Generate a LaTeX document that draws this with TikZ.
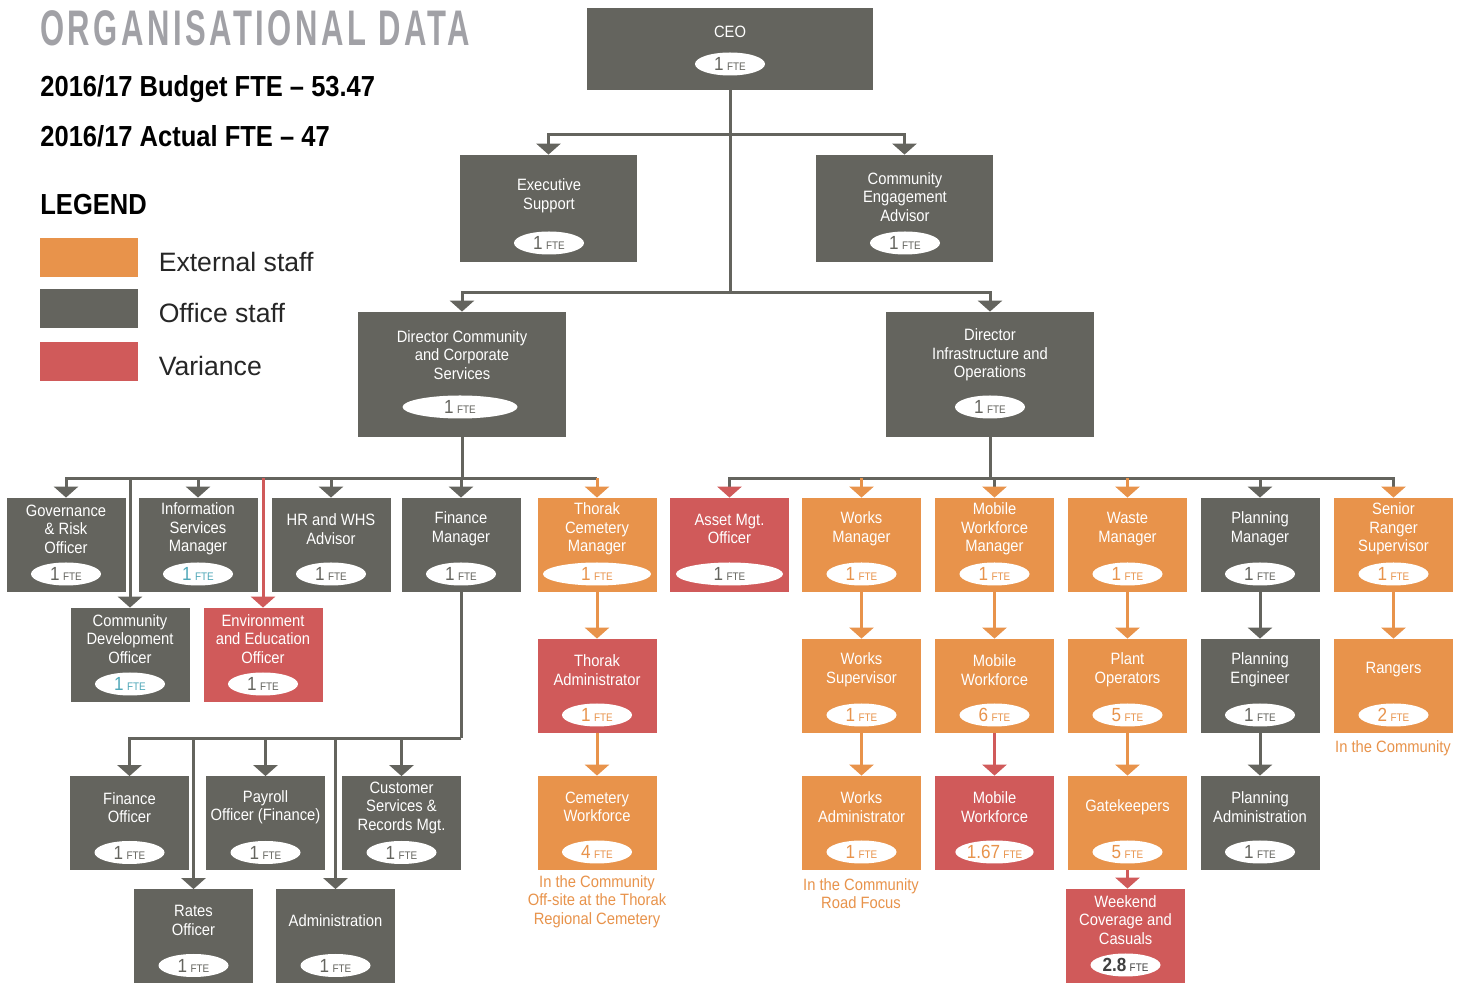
\documentclass[tikz,border=0pt]{standalone}
\usepackage{fontspec}
\setmainfont{Liberation Sans}
\newfontfamily\narrowfont[FakeStretch=0.9]{Liberation Sans}
\newfontfamily\titlefont[FakeStretch=0.62,LetterSpace=7]{Liberation Sans}
\newfontfamily\headfont[FakeStretch=0.88]{Liberation Sans}
\usetikzlibrary{shapes, arrows.meta, positioning}

\definecolor{officegrey}{HTML}{64645E}
\definecolor{extorange}{HTML}{E8934B}
\definecolor{varred}{HTML}{D05A5A}
\definecolor{titlegrey}{HTML}{A1A1A6}
\definecolor{tealtext}{HTML}{4FA7B8}

\newcommand{\fte}[1]{{\fontsize{9.5}{10}\selectfont #1}\,{\fontsize{5.5}{6}\selectfont FTE}}

\begin{document}
\begin{tikzpicture}[x=0.5pt, y=-0.5pt,
        box/.style={rectangle, minimum width=59.5pt, minimum height=47pt, inner sep=0pt},
        office/.style={box, fill=officegrey},
        external/.style={box, fill=extorange},
        variance/.style={box, fill=varred},
        btext/.style={text=white, align=center, inner sep=0pt, font=\narrowfont\fontsize{8.2}{9.25}\selectfont},
        intext/.style={btext, yshift=8pt},
        ftepill/.style={ellipse, fill=white, text=officegrey, minimum width=35pt, minimum height=11.5pt, inner sep=0pt, font=\narrowfont},
        inpill/.style={ftepill, yshift=-14.5pt},
        note/.style={btext, text=extorange},
        wire/.style={draw=officegrey, line width=1.5pt},
        link/.style={draw=#1, line width=1.5pt, -{Triangle[width=12pt, length=5.5pt]}},
        link/.default=officegrey,
        redtip/.style={-{Triangle[width=12pt, length=5.5pt, color=varred]}},
        orangetip/.style={-{Triangle[width=12pt, length=5.5pt, color=extorange]}},
        legendkey/.style={rectangle, minimum width=49pt, minimum height=19.5pt, inner sep=0pt},
        keytext/.style={inner sep=0pt, yshift=-2pt, font=\fontsize{13.3}{15}\selectfont, text=black!85},
        heading/.style={anchor=base west, inner sep=0pt, font=\headfont\bfseries\fontsize{14.5}{16}\selectfont}
    ]
        \path[use as bounding box, fill=white] (0,0) rectangle (1464,983);

        % Header
        \node[anchor=base west, inner sep=0pt, text=titlegrey, font=\titlefont\bfseries\fontsize{25}{25}\selectfont] (title) at (40,46) {ORGANISATIONAL DATA};
        \node[heading] (budget) at (40,97) {2016/17 Budget FTE – 53.47};
        \node[heading] (actual) at (40,147) {2016/17 Actual FTE – 47};
        \node[heading] (legend) at (40,215) {LEGEND};

        % Legend
        \node[legendkey, fill=extorange] (key-ext) at (89,257.5) {};
        \node[legendkey, fill=officegrey] (key-off) at (89,308.5) {};
        \node[legendkey, fill=varred] (key-var) at (89,361.5) {};
        \node[keytext, right=10pt of key-ext] (lab-ext) {External staff};
        \node[keytext, right=10pt of key-off] (lab-off) {Office staff};
        \node[keytext, right=10pt of key-var] (lab-var) {Variance};

        % CEO and direct reports
        \node[office, minimum width=143pt, minimum height=41pt] (ceo) at (730,49) {};
        \node[btext] (ceo-t) at (730,32) {CEO};
        \node[ftepill] (ceo-p) at (730,64) {\fte{1}};
        \node[office, minimum width=88.5pt, minimum height=53.5pt] (exsup) at (548.5,208.5) {};
        \node[btext] (exsup-t) at (549,196) {Executive\\Support};
        \node[ftepill] (exsup-p) at (549,243) {\fte{1}};
        \node[office, minimum width=88.5pt, minimum height=53.5pt] (cea) at (904.5,208.5) {};
        \node[btext] (cea-t) at (905,197) {Community\\Engagement\\Advisor};
        \node[ftepill] (cea-p) at (905,243) {\fte{1}};

        % Directors
        \node[office, minimum width=104pt, minimum height=62.5pt] (dccs) at (462,374.5) {};
        \node[btext] (dccs-t) at (462,355) {Director Community\\and Corporate\\Services};
        \node[ftepill, minimum width=57.5pt] (dccs-p) at (460,407) {\fte{1}};
        \node[office, minimum width=104pt, minimum height=62.5pt] (dio) at (990,374.5) {};
        \node[btext] (dio-t) at (990,355) {Director\\Infrastructure and\\Operations};
        \node[ftepill] (dio-p) at (990,407) {\fte{1}};

        % Community and corporate services
        \node[office] (gov) at (66,545) {};
        \node[intext] (gov-t) at (gov) {Governance\\\& Risk\\Officer};
        \node[inpill] (gov-p) at (gov) {\fte{1}};
        \node[office] (ism) at (198,545) {};
        \node[intext] (ism-t) at (ism) {Information\\Services\\Manager};
        \node[inpill, text=tealtext] (ism-p) at (ism) {\fte{1}};
        \node[office] (hr) at (331,545) {};
        \node[intext] (hr-t) at (hr) {HR and WHS\\Advisor};
        \node[inpill] (hr-p) at (hr) {\fte{1}};
        \node[office] (finm) at (461,545) {};
        \node[intext] (finm-t) at (finm) {Finance\\Manager};
        \node[inpill] (finm-p) at (finm) {\fte{1}};
        \node[external] (thcm) at (597,545) {};
        \node[intext] (thcm-t) at (thcm) {Thorak\\Cemetery\\Manager};
        \node[inpill, text=extorange, minimum width=54pt] (thcm-p) at (thcm) {\fte{1}};
        \node[office] (cdo) at (130,655) {};
        \node[intext] (cdo-t) at (cdo) {Community\\Development\\Officer};
        \node[inpill, text=tealtext] (cdo-p) at (cdo) {\fte{1}};
        \node[variance] (eeo) at (263,655) {};
        \node[intext] (eeo-t) at (eeo) {Environment\\and Education\\Officer};
        \node[inpill] (eeo-p) at (eeo) {\fte{1}};

        % Finance team
        \node[office] (fo) at (129.5,823.5) {};
        \node[intext] (fo-t) at (fo) {Finance\\Officer};
        \node[inpill] (fo-p) at (fo) {\fte{1}};
        \node[office] (pay) at (265.5,823.5) {};
        \node[intext] (pay-t) at (pay) {Payroll\\Officer (Finance)};
        \node[inpill] (pay-p) at (pay) {\fte{1}};
        \node[office] (csr) at (401.5,823.5) {};
        \node[intext] (csr-t) at (csr) {Customer\\Services \&\\Records Mgt.};
        \node[inpill] (csr-p) at (csr) {\fte{1}};
        \node[office] (rates) at (193.5,936.5) {};
        \node[intext] (rates-t) at (rates) {Rates\\Officer};
        \node[inpill] (rates-p) at (rates) {\fte{1}};
        \node[office] (admin) at (335.5,936.5) {};
        \node[intext] (admin-t) at (admin) {Administration};
        \node[inpill] (admin-p) at (admin) {\fte{1}};

        % Cemetery
        \node[variance] (thadm) at (597,686) {};
        \node[intext] (thadm-t) at (thadm) {Thorak\\Administrator};
        \node[inpill, text=extorange] (thadm-p) at (thadm) {\fte{1}};
        \node[external] (cemw) at (597,823) {};
        \node[intext] (cemw-t) at (cemw) {Cemetery\\Workforce};
        \node[inpill, text=extorange] (cemw-p) at (cemw) {\fte{4}};
        \node[note] (cemw-n) at (597,901.5) {In the Community\\Off-site at the Thorak\\Regional Cemetery};

        % Infrastructure and operations
        \node[variance] (asset) at (729.5,545) {};
        \node[intext] (asset-t) at (asset) {Asset Mgt.\\Officer};
        \node[inpill, minimum width=53.5pt] (asset-p) at (asset) {\fte{1}};
        \node[external] (worksm) at (861.5,545) {};
        \node[intext] (worksm-t) at (worksm) {Works\\Manager};
        \node[inpill, text=extorange] (worksm-p) at (worksm) {\fte{1}};
        \node[external] (mwm) at (994.5,545) {};
        \node[intext] (mwm-t) at (mwm) {Mobile\\Workforce\\Manager};
        \node[inpill, text=extorange] (mwm-p) at (mwm) {\fte{1}};
        \node[external] (waste) at (1127.5,545) {};
        \node[intext] (waste-t) at (waste) {Waste\\Manager};
        \node[inpill, text=extorange] (waste-p) at (waste) {\fte{1}};
        \node[office] (planm) at (1260,545) {};
        \node[intext] (planm-t) at (planm) {Planning\\Manager};
        \node[inpill] (planm-p) at (planm) {\fte{1}};
        \node[external] (srs) at (1393.5,545) {};
        \node[intext] (srs-t) at (srs) {Senior\\Ranger\\Supervisor};
        \node[inpill, text=extorange] (srs-p) at (srs) {\fte{1}};

        \node[external] (workss) at (861.5,686) {};
        \node[intext] (workss-t) at (workss) {Works\\Supervisor};
        \node[inpill, text=extorange] (workss-p) at (workss) {\fte{1}};
        \node[external] (mw) at (994.5,686) {};
        \node[intext] (mw-t) at (mw) {Mobile\\Workforce};
        \node[inpill, text=extorange] (mw-p) at (mw) {\fte{6}};
        \node[external] (plant) at (1127.5,686) {};
        \node[intext] (plant-t) at (plant) {Plant\\Operators};
        \node[inpill, text=extorange] (plant-p) at (plant) {\fte{5}};
        \node[office] (plane) at (1260,686) {};
        \node[intext] (plane-t) at (plane) {Planning\\Engineer};
        \node[inpill] (plane-p) at (plane) {\fte{1}};
        \node[external] (rangers) at (1393.5,686) {};
        \node[intext] (rangers-t) at (rangers) {Rangers};
        \node[inpill, text=extorange] (rangers-p) at (rangers) {\fte{2}};
        \node[note] (rangers-n) at (1393,748) {In the Community};

        \node[external] (worksa) at (861.5,823) {};
        \node[intext] (worksa-t) at (worksa) {Works\\Administrator};
        \node[inpill, text=extorange] (worksa-p) at (worksa) {\fte{1}};
        \node[note] (worksa-n) at (861,893.5) {In the Community\\Road Focus};
        \node[variance] (mw2) at (994.5,823) {};
        \node[intext] (mw2-t) at (mw2) {Mobile\\Workforce};
        \node[inpill, text=extorange] (mw2-p) at (mw2) {\fte{1.67}};
        \node[external] (gate) at (1127.5,823) {};
        \node[intext] (gate-t) at (gate) {Gatekeepers};
        \node[inpill, text=extorange] (gate-p) at (gate) {\fte{5}};
        \node[office] (plana) at (1260,823) {};
        \node[intext] (plana-t) at (plana) {Planning\\Administration};
        \node[inpill] (plana-p) at (plana) {\fte{1}};
        \node[variance] (wkend) at (1125.5,936) {};
        \node[intext] (wkend-t) at (wkend) {Weekend\\Coverage and\\Casuals};
        \node[inpill, text=black!75] (wkend-p) at (wkend) {\fte{\bfseries 2.8}};

        % CEO branch
        \draw[wire] (ceo.south) -- ++(0,202);
        \draw[link] (ceo.south) ++(0,44) -| (exsup.north);
        \draw[link] (ceo.south) ++(0,44) -| (cea.north);
        \draw[link] (ceo.south) ++(0,202) -| (dccs.north);
        \draw[link] (ceo.south) ++(0,202) -| (dio.north);

        % Community and corporate branch
        \path (dccs.south) ++(0,41) coordinate (lbus);
        \draw[wire] (dccs.south) -- (lbus);
        \draw[link] (lbus) -| (gov.north);
        \draw[link] (lbus) -| (ism.north);
        \draw[link] (lbus) -| (hr.north);
        \draw[link] (lbus) -| (finm.north);
        \draw[link] (lbus) -| (cdo.north);
        \draw[wire] (lbus) -- (lbus -| thcm.north);
        \draw[link=extorange] (lbus -| thcm.north) -- (thcm.north);
        \draw[link=varred] (lbus -| eeo.north) -- (eeo.north);

        % Finance team
        \path (finm.south) ++(0,146) coordinate (fbus);
        \draw[wire] (finm.south) -- (fbus);
        \draw[link] (fbus) -| (fo.north);
        \draw[link] (fbus) -| (pay.north);
        \draw[link] (fbus) -| (csr.north);
        \draw[link] (fbus) -| (rates.north);
        \draw[link] (fbus) -| (admin.north);

        % Cemetery
        \draw[link=extorange] (thcm.south) -- (thadm.north);
        \draw[link=extorange] (thadm.south) -- (cemw.north);

        % Infrastructure and operations branch
        \path (dio.south) ++(0,41) coordinate (rbus);
        \draw[wire] (dio.south) -- (rbus);
        \draw[wire, redtip] (rbus) -| (asset.north);
        \draw[wire, orangetip] (rbus) -| (mwm.north);
        \draw[link] (rbus) -| (planm.north);
        \draw[wire, orangetip] (rbus) -| (srs.north);
        \draw[link=extorange] (rbus -| worksm.north) -- (worksm.north);
        \draw[link=extorange] (rbus -| waste.north) -- (waste.north);

        \draw[link=extorange] (worksm.south) -- (workss.north);
        \draw[link=extorange] (workss.south) -- (worksa.north);
        \draw[link=extorange] (mwm.south) -- (mw.north);
        \draw[link=varred] (mw.south) -- (mw2.north);
        \draw[link=extorange] (waste.south) -- (plant.north);
        \draw[link=extorange] (plant.south) -- (gate.north);
        \draw[link=varred] (gate.south) -- (gate.south |- wkend.north);
        \draw[link] (planm.south) -- (plane.north);
        \draw[link] (plane.south) -- (plana.north);
        \draw[link=extorange] (srs.south) -- (rangers.north);
    \end{tikzpicture}
\end{document}
